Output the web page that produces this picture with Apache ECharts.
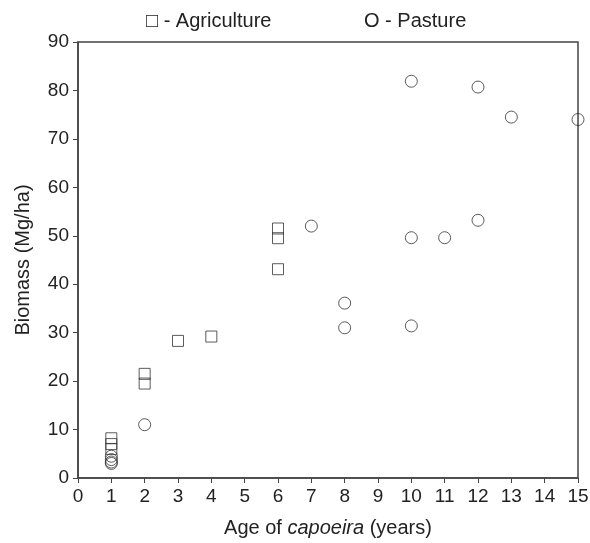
<!DOCTYPE html>
<html>
<head>
<meta charset="utf-8">
<title>Biomass vs age of capoeira</title>
<script src="https://cdn.jsdelivr.net/npm/echarts@6/dist/echarts.min.js"></script>
<style>
  html, body { margin: 0; padding: 0; background: #fff; }
  #chart { width: 590px; height: 543px; }
</style>
</head>
<body>
<div id="chart"></div>
<script>
// agriculture (squares)
var agriAge     = [1, 1, 1, 2, 2, 3, 4, 6, 6, 6];
var agriBiomass = [8.2, 7.0, 6.0, 21.5, 19.5, 28.3, 29.2, 51.5, 49.5, 43.1];

// pasture (circles)
var pastAge     = [1, 1, 1, 1, 2, 7, 8, 8, 10, 10, 10, 11, 12, 12, 13, 15];
var pastBiomass = [4.5, 3.8, 3.3, 3.0, 11.0, 52.0, 36.1, 31.0, 81.9, 49.6, 31.4, 49.6, 80.7, 53.2, 74.5, 74.0];

var xTicks = { min: 0, max: 15, step: 1 };
var yTicks = { min: 0, max: 90, step: 10 };

function pairs(xs, ys) {
  return xs.map(function (x, i) { return [x, ys[i]]; });
}

var ink = '#333';
var font = 'Liberation Sans, Arial, sans-serif';

var chart = echarts.init(document.getElementById('chart'));
chart.setOption({
  animation: false,
  backgroundColor: '#fff',
  grid: {
    left: 78, right: 12, top: 42, bottom: 65,
    containLabel: false, outerBoundsMode: 'none',
    show: true, borderColor: '#444', borderWidth: 1.5
  },
  graphic: [
    { type: 'text', left: 146, top: 11,
      style: { text: '\u25A1 - Agriculture', font: '20px ' + font, fill: '#222' } },
    { type: 'text', left: 364, top: 11,
      style: { text: 'O - Pasture', font: '20px ' + font, fill: '#222' } }
  ],
  xAxis: {
    type: 'value', min: xTicks.min, max: xTicks.max, interval: xTicks.step,
    name: '{n|Age of }{i|capoeira}{n| (years)}',
    nameLocation: 'middle', nameGap: 40,
    nameTextStyle: {
      rich: {
        n: { fontFamily: font, fontSize: 20, color: '#222' },
        i: { fontFamily: font, fontSize: 20, color: '#222', fontStyle: 'italic' }
      }
    },
    axisLine: { lineStyle: { color: '#444', width: 1.5 } },
    axisTick: { inside: false, length: 5, lineStyle: { color: '#444' } },
    axisLabel: { margin: 9, fontFamily: font, fontSize: 19, color: '#222' },
    splitLine: { show: false }
  },
  yAxis: {
    type: 'value', min: yTicks.min, max: yTicks.max, interval: yTicks.step,
    name: 'Biomass (Mg/ha)',
    nameLocation: 'middle', nameGap: 45,
    nameTextStyle: { fontFamily: font, fontSize: 20, color: '#222' },
    axisLine: { lineStyle: { color: '#444', width: 1.5 } },
    axisTick: { inside: false, length: 5, lineStyle: { color: '#444' } },
    axisLabel: { margin: 9, fontFamily: font, fontSize: 19, color: '#222' },
    splitLine: { show: false }
  },
  series: [
    {
      name: 'Agriculture', type: 'scatter', symbol: 'rect', symbolSize: 11,
      clip: false,
      itemStyle: { color: 'rgba(0,0,0,0)', borderColor: ink, borderWidth: 1 },
      data: pairs(agriAge, agriBiomass)
    },
    {
      name: 'Pasture', type: 'scatter', symbol: 'circle', symbolSize: 12,
      clip: false,
      itemStyle: { color: 'rgba(0,0,0,0)', borderColor: ink, borderWidth: 1 },
      data: pairs(pastAge, pastBiomass)
    }
  ]
});
</script>
</body>
</html>
